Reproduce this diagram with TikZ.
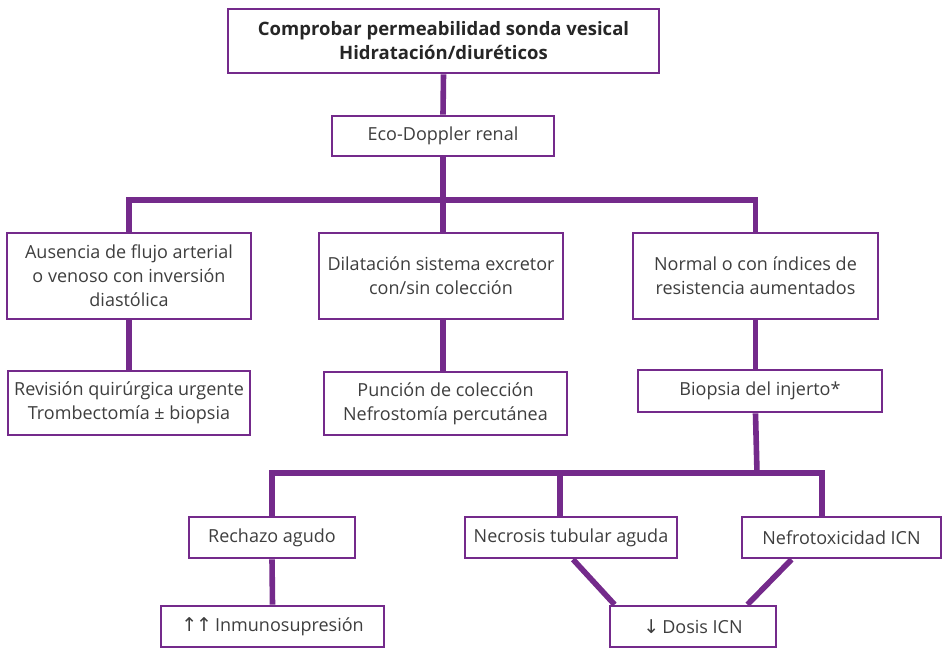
\documentclass[tikz,border=0pt]{standalone}
\usepackage{fontspec}
\setmainfont{Open Sans}
\newfontfamily\arrowfont{DejaVu Sans}
\usetikzlibrary{backgrounds}
\definecolor{violeta}{RGB}{116,42,139}
\definecolor{texto}{RGB}{62,62,62}
\begin{document}
\begin{tikzpicture}[x=1pt,y=-1pt,
  box/.style 2 args={draw=violeta, line width=2.8pt, fill=white, inner sep=0pt,
    minimum width=#1pt, minimum height=#2pt, align=center, text=texto,
    font=\fontsize{18}{24}\selectfont},
  conn/.style={draw=violeta, line width=5.6pt}]
\useasboundingbox (0,0) rectangle (943,649);

% nodes
\node[box={431}{64}, text=black!85, font=\fontsize{18.5}{24}\selectfont\bfseries] (top) at (443.5,41)
  {Comprobar permeabilidad sonda vesical\\Hidratación/diuréticos};
\node[box={222}{40}] (eco) at (443,136) {Eco-Doppler renal};

\node[box={244}{86}] (A) at (129,276) {Ausencia de flujo arterial\\o venoso con inversión\\diastólica};
\node[box={244}{86}] (B) at (441,276) {Dilatación sistema excretor\\con/sin colección};
\node[box={245}{86}] (C) at (755.5,276) {Normal o con índices de\\resistencia aumentados};

\node[box={242}{64}] (A2) at (129,403) {Revisión quirúrgica urgente\\Trombectomía ± biopsia};
\node[box={243}{63}] (B2) at (445.5,403.5) {Punción de colección\\Nefrostomía percutánea};
\node[box={244}{42}] (C2) at (760,391) {Biopsia del injerto*};

\node[box={166}{41}] (R) at (272,537.5) {Rechazo agudo};
\node[box={212}{41}] (N) at (571,537.5) {Necrosis tubular aguda};
\node[box={199}{41}] (F) at (841.5,537.5) {Nefrotoxicidad ICN};

\node[box={223}{41}] (I) at (272.5,626.5) {{\arrowfont\fontsize{19}{19}\selectfont ↑\kern-1pt↑}\,Inmunosupresión};
\node[box={166}{41}] (D) at (693,626.5) {{\arrowfont\fontsize{19}{19}\selectfont ↓}\,Dosis ICN};

% junction points
\coordinate (j1) at (443,200);
\coordinate (j2) at (757,473);
\coordinate (jn) at (560,473);
\coordinate (jf) at (822,473);

% connectors
\begin{scope}[on background layer]
  \draw[conn] (top.south) -- (eco.north);
  \draw[conn] (eco.south) -- (j1);
  \draw[conn] (A.north) |- (j1) -| (C.north);
  \draw[conn] (j1) -- (j1 |- B.north);
  \draw[conn] (A.south) -- (A2.north);
  \draw[conn] (j1 |- B.south) -- (j1 |- B2.north);
  \draw[conn] (C.south) -- (C.south |- C2.north);
  \draw[conn] (C.south |- C2.south) -- (j2);
  \draw[conn] (R.north) |- (jf) -- (jf |- F.north);
  \draw[conn] (jn) -- (jn |- N.north);
  \draw[conn] (R.south) -- (I.north);
  \draw[conn] ([xshift=2pt]N.south) -- ([xshift=6pt]D.north west);
  \draw[conn] ([xshift=51pt]F.south west) -- ([xshift=-30pt]D.north east);
\end{scope}
\end{tikzpicture}
\end{document}
